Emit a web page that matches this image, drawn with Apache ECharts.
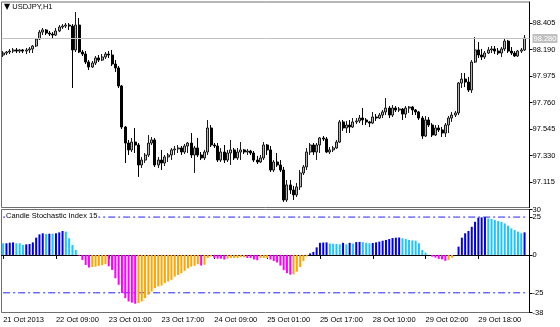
<!DOCTYPE html>
<html><head><meta charset="utf-8">
<script src="https://cdn.jsdelivr.net/npm/echarts@6/dist/echarts.min.js"></script>
<style>html,body{margin:0;padding:0;background:#fff}#c{width:560px;height:327px}</style>
</head><body><div id="c"></div>
<script>
const symbolTitle = 'USDJPY,H1';
const indicatorTitle = 'Candle Stochastic Index 15';
const timeLabels = ['21 Oct 2013','22 Oct 09:00','23 Oct 01:00','23 Oct 17:00','24 Oct 09:00','25 Oct 01:00','25 Oct 17:00','28 Oct 10:00','29 Oct 02:00','29 Oct 18:00'];
const barsPerTimeLabel = 16;
const priceTicks = [97.115, 97.330, 97.545, 97.760, 97.975, 98.190, 98.405];
const indicatorTicks = [30, 0, -25, -38];
const indicatorLevelTicks = [25];
const indicatorLevels = [25, -25];
const currentPrice = 98.283;

const open = [98.146,98.162,98.170,98.178,98.187,98.178,98.187,98.178,98.187,98.195,
98.219,98.276,98.332,98.349,98.324,98.316,98.308,98.341,98.373,98.381,
98.389,98.381,98.187,98.389,98.170,98.154,98.089,98.049,98.081,98.122,
98.105,98.130,98.154,98.146,98.073,98.041,97.895,97.562,97.432,97.376,
97.440,97.416,97.254,97.294,97.335,97.432,97.457,97.254,97.294,97.270,
97.319,97.335,97.376,97.384,97.392,97.359,97.408,97.432,97.335,97.392,
97.335,97.311,97.359,97.554,97.416,97.408,97.294,97.359,97.294,97.351,
97.376,97.311,97.359,97.376,97.359,97.367,97.351,97.294,97.278,97.311,
97.416,97.376,97.213,97.278,97.254,97.213,96.970,97.092,97.051,97.011,
97.076,97.189,97.238,97.359,97.416,97.359,97.416,97.473,97.465,97.359,
97.376,97.392,97.440,97.603,97.554,97.578,97.562,97.603,97.611,97.635,
97.619,97.603,97.594,97.643,97.635,97.659,97.684,97.716,97.659,97.716,
97.700,97.708,97.667,97.716,97.724,97.700,97.684,97.635,97.489,97.619,
97.578,97.497,97.554,97.538,97.513,97.578,97.635,97.659,97.676,97.919,
97.951,97.927,97.862,98.089,98.187,98.146,98.130,98.162,98.187,98.195,
98.178,98.162,98.195,98.259,98.178,98.162,98.138,98.178,98.187];

const close = [98.162,98.170,98.178,98.187,98.178,98.187,98.178,98.187,98.195,98.219,
98.276,98.332,98.349,98.324,98.316,98.308,98.341,98.373,98.381,98.389,
98.381,98.187,98.389,98.170,98.154,98.089,98.049,98.081,98.122,98.105,
98.130,98.154,98.146,98.073,98.041,97.895,97.562,97.432,97.376,97.440,
97.416,97.254,97.294,97.335,97.432,97.457,97.254,97.294,97.270,97.319,
97.335,97.376,97.384,97.392,97.359,97.408,97.432,97.335,97.392,97.335,
97.311,97.359,97.554,97.416,97.408,97.294,97.359,97.294,97.351,97.376,
97.311,97.359,97.376,97.359,97.367,97.351,97.294,97.278,97.311,97.416,
97.376,97.213,97.278,97.254,97.213,96.970,97.092,97.051,97.011,97.076,
97.189,97.238,97.359,97.416,97.359,97.416,97.473,97.465,97.359,97.376,
97.392,97.440,97.603,97.554,97.578,97.562,97.603,97.611,97.635,97.619,
97.603,97.594,97.643,97.635,97.659,97.684,97.716,97.659,97.716,97.700,
97.708,97.667,97.716,97.724,97.700,97.684,97.635,97.489,97.619,97.578,
97.497,97.554,97.538,97.513,97.578,97.635,97.659,97.676,97.919,97.951,
97.927,97.862,98.089,98.187,98.146,98.130,98.162,98.187,98.195,98.178,
98.162,98.195,98.259,98.178,98.162,98.138,98.178,98.187,98.283];

const low = [98.130,98.146,98.154,98.162,98.162,98.162,98.162,98.154,98.162,98.162,
98.211,98.268,98.308,98.308,98.300,98.284,98.300,98.332,98.357,98.365,
98.349,97.878,98.170,98.162,98.138,98.073,98.024,98.041,98.065,98.089,
98.097,98.114,98.122,98.057,98.008,97.878,97.546,97.270,97.335,97.359,
97.351,97.157,97.229,97.270,97.319,97.416,97.238,97.229,97.213,97.246,
97.278,97.294,97.335,97.351,97.335,97.343,97.351,97.311,97.189,97.319,
97.294,97.294,97.335,97.400,97.392,97.278,97.278,97.270,97.278,97.254,
97.294,97.294,97.294,97.343,97.335,97.335,97.278,97.262,97.270,97.294,
97.335,97.197,97.197,97.238,97.197,96.954,96.954,97.019,96.970,96.994,
97.051,97.173,97.213,97.335,97.335,97.294,97.351,97.448,97.351,97.343,
97.359,97.384,97.432,97.530,97.513,97.513,97.554,97.586,97.594,97.578,
97.578,97.562,97.586,97.611,97.627,97.635,97.659,97.635,97.643,97.684,
97.684,97.619,97.635,97.676,97.659,97.659,97.619,97.465,97.481,97.562,
97.481,97.489,97.521,97.481,97.481,97.513,97.603,97.643,97.659,97.878,
97.886,97.846,97.838,98.081,98.122,98.105,98.114,98.154,98.162,98.154,
98.146,98.130,98.178,98.162,98.146,98.130,98.130,98.162,98.178];

const high = [98.178,98.178,98.195,98.203,98.203,98.195,98.195,98.203,98.211,98.227,
98.284,98.349,98.365,98.357,98.341,98.332,98.365,98.389,98.397,98.405,
98.405,98.397,98.495,98.446,98.187,98.178,98.105,98.097,98.138,98.146,
98.154,98.170,98.178,98.187,98.105,98.057,97.903,97.570,97.457,97.473,
97.554,97.432,97.319,97.351,97.497,97.481,97.473,97.319,97.376,97.335,
97.351,97.392,97.408,97.416,97.408,97.424,97.440,97.513,97.408,97.473,
97.359,97.376,97.619,97.578,97.432,97.432,97.392,97.416,97.376,97.457,
97.392,97.392,97.440,97.384,97.384,97.376,97.367,97.327,97.335,97.440,
97.424,97.408,97.294,97.351,97.294,97.238,97.132,97.132,97.084,97.108,
97.213,97.254,97.392,97.432,97.432,97.432,97.481,97.489,97.481,97.400,
97.408,97.457,97.619,97.619,97.611,97.619,97.635,97.635,97.659,97.716,
97.635,97.611,97.684,97.667,97.676,97.700,97.797,97.732,97.740,97.732,
97.724,97.716,97.732,97.732,97.732,97.708,97.692,97.651,97.651,97.643,
97.594,97.578,97.578,97.562,97.594,97.651,97.684,97.692,97.927,98.000,
98.000,97.968,98.105,98.292,98.251,98.195,98.178,98.211,98.219,98.219,
98.203,98.211,98.284,98.268,98.211,98.178,98.187,98.203,98.308];

const csi = [7.7,7.7,8.1,8.3,7.7,7.7,6.6,7.0,7.2,8.3,
11.4,13.6,14.3,13.8,14.0,14.0,14.3,14.9,15.8,15.4,
11.0,6.6,3.3,-0.5,-3.3,-6.6,-8.3,-8.0,-7.7,-7.2,
-6.8,-6.1,-7.5,-9.9,-15.4,-19.7,-25.2,-28.5,-30.7,-31.5,
-32.2,-31.8,-30.7,-28.5,-26.3,-24.1,-21.9,-20.8,-20.2,-18.6,
-17.5,-16.4,-14.3,-13.2,-12.1,-10.5,-8.8,-7.7,-7.2,-6.1,
-7.0,-6.5,-2.0,-1.0,-2.0,-2.5,-2.5,-3.0,-2.5,-2.0,
-2.0,-2.0,-1.5,-1.5,-2.0,-2.0,-3.0,-3.5,-2.0,-2.0,
-2.0,-3.0,-4.0,-5.0,-7.0,-10.0,-12.0,-13.0,-12.8,-11.0,
-8.0,-4.0,-1.0,1.0,2.0,5.0,8.0,8.2,8.3,7.5,
7.4,7.3,7.0,8.0,7.0,8.0,7.5,8.5,8.6,8.4,
8.0,7.7,7.9,8.3,8.8,9.4,9.9,10.5,11.2,11.4,
11.5,11.0,10.5,9.9,9.6,9.4,7.7,3.3,1.5,0,
-1.1,-1.8,-2.6,-2.9,-3.9,-3.3,-1.8,0,5.5,11.4,
14.3,15.8,18.6,21.9,24.6,24.8,24.9,24.1,23.7,23.0,
22.4,21.9,20.8,19.3,17.5,16.4,15.4,14.3,14.9];

// B = rising above zero, S = falling above zero, M = falling below zero, O = rising below zero
const csiState = ['S','B','B','B','S','S','S','B','B','B',
'B','B','B','S','B','S','B','B','B','S',
'S','S','S','M','M','M','M','O','O','O',
'O','O','M','M','M','M','M','M','M','M',
'M','O','O','O','O','O','O','O','O','O',
'O','O','O','O','O','O','O','O','O','O',
'M','O','O','O','M','M','M','M','O','O',
'O','O','O','O','M','M','M','M','O','O',
'O','M','M','M','M','M','M','M','O','O',
'O','O','O','B','B','B','B','B','B','S',
'S','S','S','B','S','B','S','B','B','S',
'S','S','B','B','B','B','B','B','B','B',
'B','S','S','S','S','S','S','S','S','S',
'M','M','M','M','M','O','O','O','B','B',
'B','B','B','B','B','B','B','S','S','S',
'S','S','S','S','S','S','S','S','B'];

const stateColor = {B:'#0000e0', S:'#1ec3ff', M:'#ff00ff', O:'#ffa500'};
const levelColor = '#1e1eff';
const FONT = 'Liberation Sans, Arial, sans-serif';

const cats = open.map((_, i) => String(i)).concat(['']);
const candles = open.map((o, i) => [o, close[i], low[i], high[i]]);
const histo = csi.map((v, i) => ({value: v, itemStyle: {color: stateColor[csiState[i]]}}));
const showTick = (idx) => idx % barsPerTimeLabel === 0 && idx / barsPerTimeLabel < timeLabels.length;

const levelSeries = indicatorLevels.map(lv => ({
  type: 'line', xAxisIndex: 1, yAxisIndex: 1, silent: true, symbol: 'none', z: 1,
  data: cats.map(() => lv),
  lineStyle: {color: levelColor, width: 1, type: [7, 3, 2, 3]},
  itemStyle: {color: levelColor}
}));

const indAxisLabel = {margin: 3, fontSize: 7.5, color: '#000', fontFamily: FONT, hideOverlap: false,
  showMaxLabel: true, showMinLabel: true, formatter: v => String(v)};

const chart = echarts.init(document.getElementById('c'), null, {renderer: 'canvas'});
chart.setOption({
  animation: false,
  backgroundColor: '#ffffff',
  textStyle: {fontFamily: FONT},
  title: [
    {text: '{t|▼} ' + symbolTitle, left: 4, top: 3, padding: 0,
     textStyle: {fontSize: 7.5, fontWeight: 'normal', color: '#000', fontFamily: FONT,
       rich: {t: {fontSize: 8, color: '#000', fontFamily: 'DejaVu Sans'}}}},
    {text: indicatorTitle, left: 5, top: 212, padding: [0, 1, 0, 1], backgroundColor: '#fff',
     textStyle: {fontSize: 7.5, fontWeight: 'normal', color: '#000', fontFamily: FONT}, z: 10}
  ],
  grid: [
    {left: 1.5, top: 2, width: 528, height: 205.5, show: true, borderColor: '#6e6e6e', borderWidth: 1},
    {left: 1.5, top: 209.5, width: 528, height: 103, show: true, borderColor: '#6e6e6e', borderWidth: 1}
  ],
  xAxis: [
    {type: 'category', gridIndex: 0, data: cats, boundaryGap: true,
     axisLine: {show: false}, axisTick: {show: false}, axisLabel: {show: false}, splitLine: {show: false}},
    {type: 'category', gridIndex: 1, data: cats, boundaryGap: true,
     axisLine: {show: true, lineStyle: {color: '#000'}},
     axisTick: {show: true, alignWithLabel: true, interval: showTick, length: 4, lineStyle: {color: '#000'}},
     axisLabel: {interval: showTick, align: 'left', margin: 3, fontSize: 7.5, color: '#000', fontFamily: FONT,
       formatter: (v, idx) => timeLabels[Math.round(idx / barsPerTimeLabel)] || ''},
     splitLine: {show: false}}
  ],
  yAxis: [
    {type: 'value', gridIndex: 0, position: 'right', min: 96.909, max: 98.576, scale: true,
     splitLine: {show: false},
     axisLine: {show: true, lineStyle: {color: '#000'}},
     axisTick: {show: true, length: 3, customValues: priceTicks, lineStyle: {color: '#000'}},
     axisLabel: {customValues: priceTicks, margin: 3, fontSize: 7.5, color: '#000', fontFamily: FONT,
       hideOverlap: false, formatter: v => v.toFixed(3)}},
    {type: 'value', gridIndex: 1, position: 'right', min: -38, max: 30,
     splitLine: {show: false},
     axisLine: {show: true, lineStyle: {color: '#000'}},
     axisTick: {show: true, length: 3, customValues: indicatorTicks, lineStyle: {color: '#000'}},
     axisLabel: Object.assign({customValues: indicatorTicks}, indAxisLabel)},
    {type: 'value', gridIndex: 1, position: 'right', min: -38, max: 30,
     splitLine: {show: false},
     axisLine: {show: false},
     axisTick: {show: true, length: 3, customValues: indicatorLevelTicks, lineStyle: {color: '#000'}},
     axisLabel: Object.assign({customValues: indicatorLevelTicks}, indAxisLabel)}
  ],
  series: [
    {type: 'candlestick', xAxisIndex: 0, yAxisIndex: 0, data: candles, barWidth: 2.5,
     itemStyle: {color: '#b4b4b4', color0: '#000', borderColor: '#1a1a1a', borderColor0: '#000', borderWidth: 1},
     markLine: {silent: true, symbol: 'none', animation: false,
       lineStyle: {color: '#c0c0c0', type: 'solid', width: 1},
       label: {show: true, position: 'end', distance: 3, formatter: p => p.value.toFixed(3),
         backgroundColor: '#c0c0c0', color: '#fff', fontSize: 7.5, fontFamily: FONT, padding: [1, 1, 0, 1]},
       data: [{yAxis: currentPrice}]}},
    {type: 'bar', xAxisIndex: 1, yAxisIndex: 1, data: histo, barWidth: 2, z: 2}
  ].concat(levelSeries)
});
</script></body></html>
